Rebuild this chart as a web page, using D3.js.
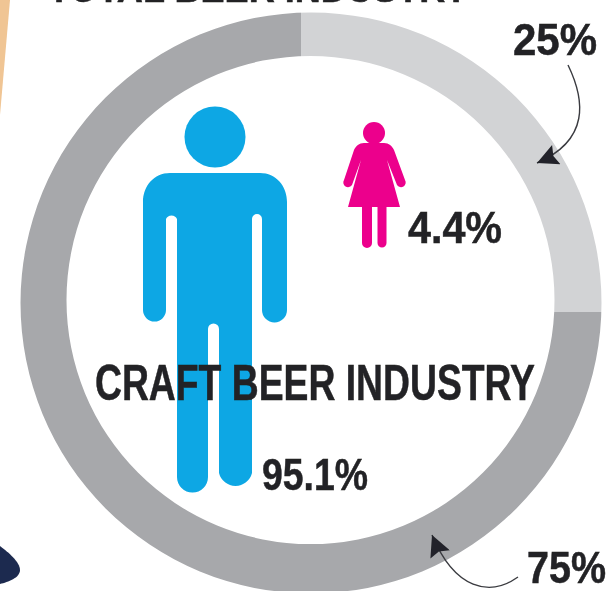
<!DOCTYPE html>
<html>
<head>
<meta charset="utf-8">
<script src="https://cdnjs.cloudflare.com/ajax/libs/d3/7.8.5/d3.min.js"></script>
<style>
  html, body { margin: 0; padding: 0; background: #fff; overflow: hidden; }
  text { font-family: "Liberation Sans Narrow", "Liberation Sans", sans-serif; font-weight: bold; fill: #232325; stroke: #232325; stroke-width: 0.5; }
</style>
</head>
<body>
<svg id="chart" width="607" height="591"></svg>
<script>
var segments = ["25%", "75%"];
var shares = [25, 75];
var segmentColors = ["#d2d3d5", "#a7a8ab"];
var genders = ["Female", "Male"];
var genderLabels = ["4.4%", "95.1%"];
var title = "CRAFT BEER INDUSTRY";
var cutTitle = "TOTAL BEER INDUSTRY";

var svg = d3.select("#chart");
var defs = svg.append("defs");
defs.append("filter").attr("id", "soft")
    .append("feGaussianBlur").attr("stdDeviation", 0.7);
defs.append("marker").attr("id", "head")
    .attr("viewBox", "0 0 10 10").attr("refX", 10).attr("refY", 5)
    .attr("markerWidth", 17).attr("markerHeight", 15)
    .attr("orient", "auto").attr("markerUnits", "strokeWidth")
  .append("path").attr("d", "M0,0L10,5L0,10L1.5,5Z").attr("fill", "#23242a");

// outer edge and hole are not quite concentric in the picture
var band = d3.path();
band.arc(311, 303, 290.5, 0, 2 * Math.PI);
band.closePath();
band.moveTo(554.5, 300);
band.arc(310.5, 300, 244, 0, 2 * Math.PI);
band.closePath();
defs.append("clipPath").attr("id", "band")
  .append("path").attr("d", band.toString()).attr("clip-rule", "evenodd");

var root = svg.append("g").attr("filter", "url(#soft)");

// bits of the surrounding page
root.append("path").attr("d", "M0,0H10L0,115Z").attr("fill", "#f0c594");
root.append("path").attr("d", "M0,546C8,552 20,562 20,570C20,578 8,582 0,584Z").attr("fill", "#1f2b4f");
root.append("text").attr("x", 48).attr("y", 2).attr("font-size", 38)
    .attr("textLength", 420).attr("lengthAdjust", "spacingAndGlyphs").text(cutTitle);

// ring
var pie = d3.pie().sort(null)(shares);
var arc = d3.arc().innerRadius(0).outerRadius(420);
var ring = root.append("g").attr("clip-path", "url(#band)")
  .append("g").attr("transform", "translate(301,312)");
ring.selectAll("path").data(pie).enter().append("path")
    .attr("d", arc)
    .attr("fill", (d, i) => segmentColors[i]);

// man
var man = root.append("g").attr("fill", "#0aa7e4");
man.append("circle").attr("cx", 215).attr("cy", 137).attr("r", 30.5);
man.append("path").attr("d",
    "M170,173H260C276,173 287,186 287,202V310A12.500,12.500 0 0 1 262,310V219A5,5 0 0 0 252,219" +
    "V473A17,17 0 0 1 219,473V329A5.500,5.500 0 0 0 208,329V477A15.500,15.500 0 0 1 177,477" +
    "V219A6,6 0 0 0 166,219V310A11.500,11.500 0 0 1 143,310V202C143,186 154,173 170,173Z");

// woman
var woman = root.append("g").attr("fill", "#ec008c");
woman.append("circle").attr("cx", 374).attr("cy", 133).attr("r", 11);
woman.append("path").attr("d",
    "M364,143H384C389,143 392,146 394,150L405,180A4.500,4.500 0 0 1 397,185L387,160L400,207H386.500V243" +
    "A4.500,4.500 0 0 1 377.500,243V207H372V243A5,5 0 0 1 362,243V207H348L361,160L352,185" +
    "A4.500,4.500 0 0 1 344,180L354,150C356,146 359,143 364,143Z");

// labels
root.append("text").attr("x", 513).attr("y", 55).attr("font-size", 44)
    .attr("textLength", 84).attr("lengthAdjust", "spacingAndGlyphs").text(segments[0]);
root.append("text").attr("x", 527).attr("y", 583).attr("font-size", 44)
    .attr("textLength", 79).attr("lengthAdjust", "spacingAndGlyphs").text(segments[1]);
root.append("text").attr("x", 408).attr("y", 243).attr("font-size", 44)
    .attr("textLength", 94).attr("lengthAdjust", "spacingAndGlyphs").text(genderLabels[0]);
root.append("text").attr("x", 262).attr("y", 490).attr("font-size", 45)
    .attr("textLength", 106).attr("lengthAdjust", "spacingAndGlyphs").text(genderLabels[1]);
root.append("text").attr("x", 95).attr("y", 400).attr("font-size", 50)
    .attr("textLength", 440).attr("lengthAdjust", "spacingAndGlyphs").text(title);

// arrows
root.append("path").attr("d", "M568,65C585,100 590,140 537,163")
    .attr("fill", "none").attr("stroke", "#3a3b40").attr("stroke-width", 1.4)
    .attr("marker-end", "url(#head)");
root.append("path").attr("d", "M518,577C490,597 455,590 432,535")
    .attr("fill", "none").attr("stroke", "#3a3b40").attr("stroke-width", 1.4)
    .attr("marker-end", "url(#head)");
</script>
</body>
</html>
